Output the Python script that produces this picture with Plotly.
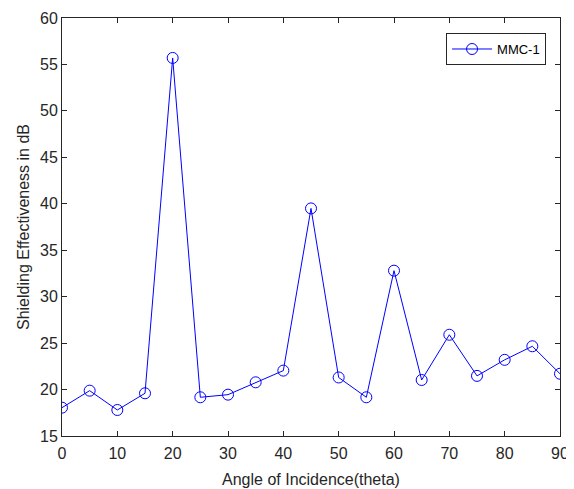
import plotly.graph_objects as go

angles = [0, 5, 10, 15, 20, 25, 30, 35, 40, 45, 50, 55, 60, 65, 70, 75, 80, 85, 90]
se_db = [18.05, 19.88, 17.8, 19.6, 55.7, 19.17, 19.45, 20.78, 22.04, 39.5,
         21.3, 19.17, 32.8, 21.03, 25.9, 21.47, 23.2, 24.66, 21.7]
series_name = "MMC-1"
x_ticks = [0, 10, 20, 30, 40, 50, 60, 70, 80, 90]
y_ticks = [15, 20, 25, 30, 35, 40, 45, 50, 55, 60]

fig = go.Figure()
fig.add_trace(go.Scatter(
    x=angles, y=se_db, mode="lines+markers", name=series_name,
    line=dict(color="#0000ff", width=1),
    marker=dict(symbol="circle-open", size=11, color="#0000ff", line=dict(width=1)),
))

axis_common = dict(
    showline=True, linecolor="#262626", linewidth=1, mirror="ticks",
    ticks="inside", ticklen=5, tickcolor="#262626",
    showgrid=False, zeroline=False, automargin=False,
    tickfont=dict(family="Liberation Sans, Arial", size=16, color="#262626"),
)

# page body has an 8px default margin, so the figure is offset by 8px
fig.update_layout(
    width=566, height=481,
    paper_bgcolor="white", plot_bgcolor="white",
    margin=dict(l=54, r=14, t=10, b=53),
    xaxis=dict(range=[0, 90], tickvals=x_ticks, ticklabelstandoff=3,
               title=dict(text="Angle of Incidence(theta)", standoff=12,
                          font=dict(family="Liberation Sans, Arial", size=16, color="#262626")),
               **axis_common),
    yaxis=dict(range=[15, 60], tickvals=y_ticks,
               title=dict(text="Shielding Effectiveness in dB", standoff=6,
                          font=dict(family="Liberation Sans, Arial", size=16, color="#262626")),
               **axis_common),
    showlegend=True,
    legend=dict(x=0.972, y=0.964, xanchor="right", yanchor="top",
                bgcolor="white", bordercolor="#262626", borderwidth=1,
                font=dict(family="Liberation Sans, Arial", size=13, color="black"),
                itemwidth=40),
)

fig.write_html("out.html")
